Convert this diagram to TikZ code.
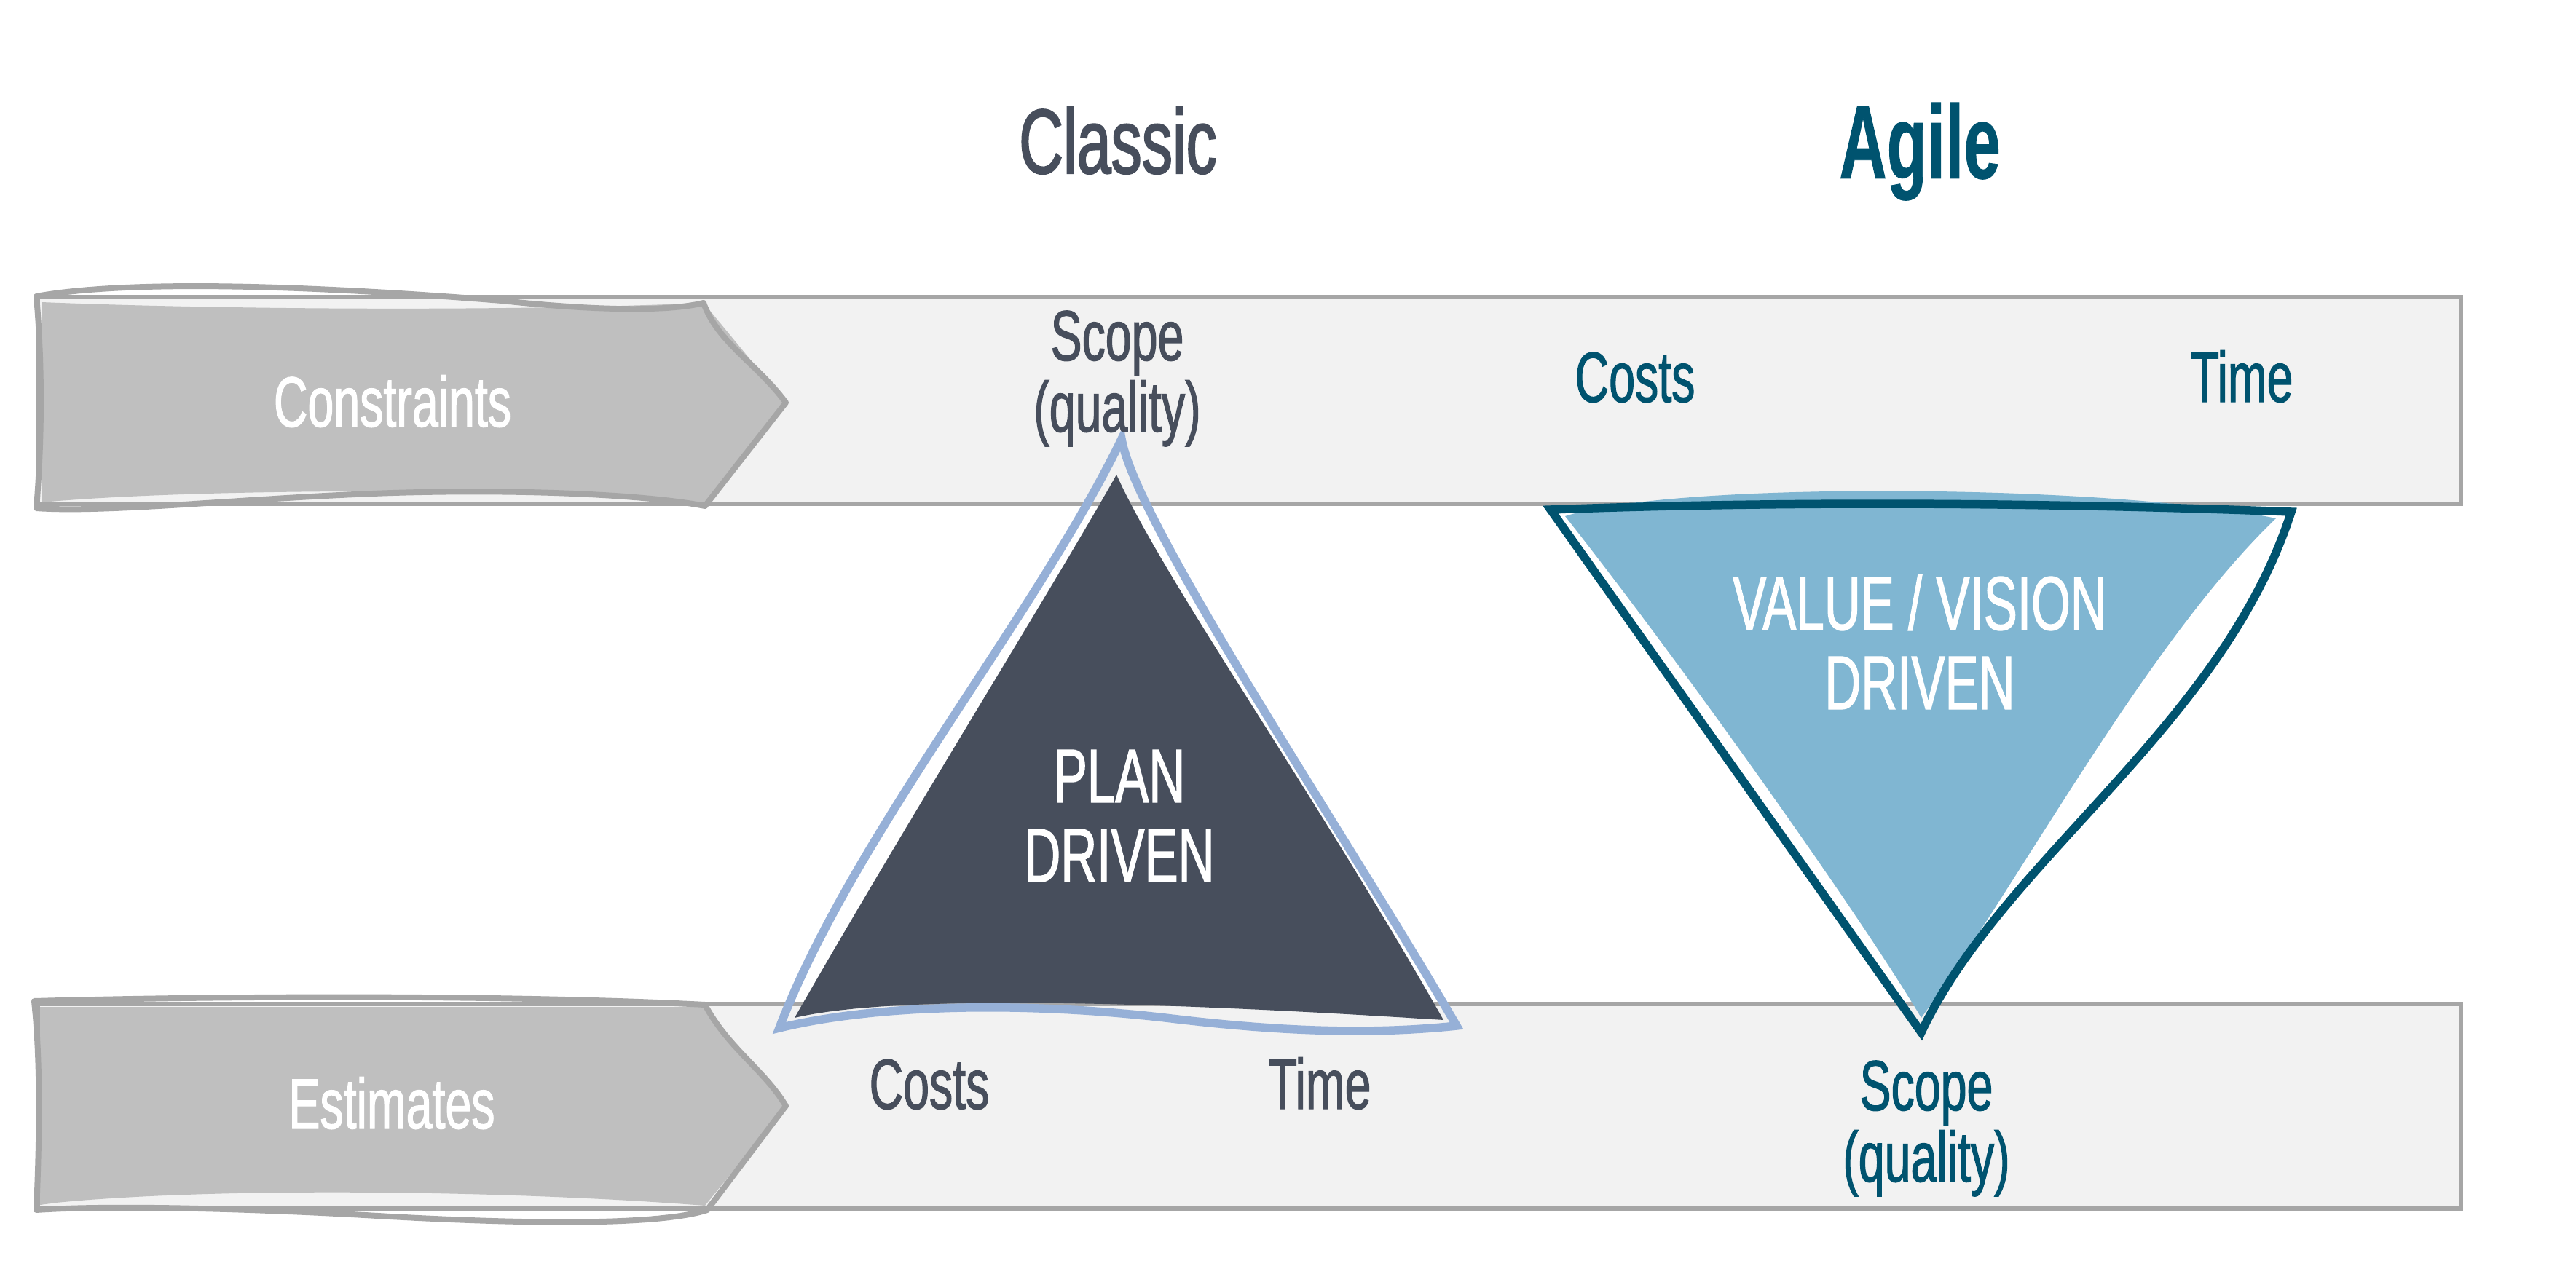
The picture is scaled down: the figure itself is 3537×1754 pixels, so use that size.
\documentclass[tikz,border=0pt]{standalone}
\usepackage{fontspec}
\newfontfamily\cond{Liberation Sans}[FakeStretch=0.66, FakeBold=1.2]
\newfontfamily\condt{Liberation Sans}[FakeStretch=0.67, FakeBold=1.6]
\newfontfamily\conda{Liberation Sans}[FakeStretch=0.63, FakeBold=0.6]
\definecolor{slate}{HTML}{474E5C}
\definecolor{teal}{HTML}{00536F}
\definecolor{lblue}{HTML}{96B0D7}
\definecolor{valfill}{HTML}{80B6D2}
\definecolor{bandfill}{HTML}{F2F2F2}
\definecolor{bandline}{HTML}{A6A6A6}
\definecolor{arrfill}{HTML}{BFBFBF}
\begin{document}
\begin{tikzpicture}[x=0.1mm,y=-0.1mm,
  band/.style={fill=bandfill, draw=bandline, line width=0.55mm},
  arrowbody/.style={fill=arrfill},
  arrowline/.style={draw=bandline, line width=0.8mm, line join=round},
  lbl/.style={font=\cond\fontsize{27.8pt}{27.9pt}\selectfont, inner sep=0pt, anchor=base, align=center},
  inlbl/.style={font=\cond\fontsize{29.8pt}{31pt}\selectfont, inner sep=0pt, anchor=base, align=center, text=white},
  title/.style={inner sep=0pt, anchor=base}
]
\useasboundingbox (0,0) rectangle (3537,1754);

% bands
\draw[band] (52,408) rectangle (3379,692);
\draw[band] (52,1379) rectangle (3379,1660);

% Constraints arrow
\fill[arrowbody] (57,415) .. controls (300,425) and (700,428) .. (966,416)
  -- (1079,553) -- (968,690) .. controls (700,668) and (250,672) .. (57,690) -- cycle;
\draw[arrowline] (50,407) .. controls (200,380) and (500,398) .. (689,413)
  .. controls (850,430) and (930,425) .. (966,416)
  .. controls (985,470) and (1040,500) .. (1079,553)
  -- (968,695)
  .. controls (880,678) and (700,672) .. (540,677)
  .. controls (350,683) and (150,705) .. (50,698)
  .. controls (58,600) and (58,500) .. cycle;
\node[lbl, text=white] (constraints) at (539,586) {Constraints};

% Estimates arrow
\fill[arrowbody] (55,1383) -- (968,1383) -- (1079,1519) -- (968,1656)
  .. controls (700,1635) and (300,1630) .. (77,1652) -- (55,1655) -- cycle;
\draw[arrowline] (47,1375) .. controls (300,1368) and (700,1366) .. (968,1380)
  .. controls (1000,1440) and (1050,1470) .. (1079,1519)
  -- (971,1662)
  .. controls (900,1685) and (700,1680) .. (536,1671)
  .. controls (350,1660) and (150,1655) .. (50,1662)
  .. controls (55,1550) and (55,1450) .. cycle;
\node[lbl, text=white] (estimates) at (538,1550) {Estimates};

% Plan driven triangle
\fill[slate] (1091,1398) .. controls (1250,1120) and (1450,800) .. (1533,652)
  .. controls (1600,800) and (1800,1080) .. (1982,1401)
  .. controls (1700,1383) and (1250,1360) .. (1091,1398) -- cycle;
\draw[lblue, line width=1.15mm, line join=miter] (1540,603)
  .. controls (1560,720) and (1850,1150) .. (2000,1409)
  .. controls (1850,1425) and (1700,1410) .. (1600,1398)
  .. controls (1400,1375) and (1200,1380) .. (1070,1412)
  .. controls (1170,1150) and (1420,850) .. cycle;
\node[inlbl] (plan) at (1537,1211) {PLAN\\DRIVEN};

% Value / vision driven triangle
\fill[valfill] (2149,709) .. controls (2300,660) and (2900,665) .. (3125,712)
  .. controls (2950,880) and (2780,1200) .. (2638,1398)
  .. controls (2550,1250) and (2300,900) .. (2149,709) -- cycle;
\draw[teal, line width=1.15mm, line join=miter] (2129,700)
  .. controls (2450,688) and (2800,690) .. (3146,703)
  .. controls (3050,1000) and (2750,1180) .. (2638,1418)
  -- cycle;
\node[inlbl] (value) at (2636,974) {VALUE / VISION\\DRIVEN};

% titles
\node[title, text=slate, font=\condt\fontsize{35.8pt}{36pt}\selectfont] (classic) at (1535,238) {Classic};
\node[title, text=teal, font=\conda\bfseries\fontsize{40.9pt}{41pt}\selectfont] (agile) at (2636,245) {Agile};

% band labels
\node[lbl, text=slate] (topscope) at (1534,593) {Scope\\(quality)};
\node[lbl, text=teal] (topcosts) at (2245,552) {Costs};
\node[lbl, text=teal] (toptime) at (3078,552) {Time};
\node[lbl, text=slate] (botcosts) at (1276,1523) {Costs};
\node[lbl, text=slate] (bottime) at (1812,1523) {Time};
\node[lbl, text=teal] (botscope) at (2645,1623) {Scope\\(quality)};
\end{tikzpicture}
\end{document}
